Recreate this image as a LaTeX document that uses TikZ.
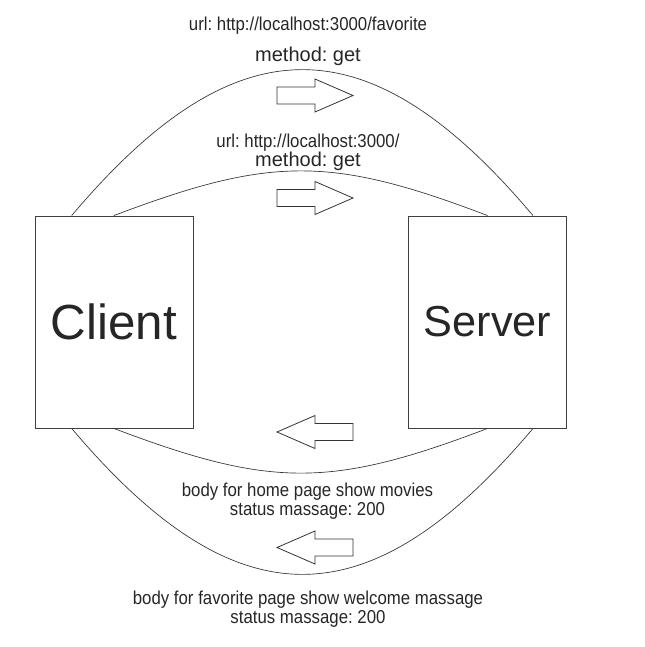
\documentclass[tikz,border=0pt]{standalone}
\usepackage{fontspec}
\setmainfont{Liberation Sans}
\newfontfamily\narrowsf[FakeStretch=0.9]{Liberation Sans}
\usepackage{tikz}
\usetikzlibrary{calc}
\frenchspacing

\tikzset{
  party/.style={draw=black!75, line width=0.7pt, minimum width=158*0.75pt, minimum height=212*0.75pt, inner sep=0pt},
  lbl/.style={anchor=base, inner sep=0pt, font=\narrowsf\fontsize{14}{16}\selectfont, text=black!85},
  mlbl/.style={anchor=base, inner sep=0pt, font=\fontsize{15}{17}\selectfont, text=black!85},
  conn/.style={draw=black!80, line width=0.5pt},
  blockarrow/.pic={\draw[black!80, line width=0.6pt] (-38,-8.5) -- (0,-8.5) -- (0,-16.5) -- (38,0) -- (0,16.5) -- (0,8.5) -- (-38,8.5) -- cycle;}
}

\begin{document}
\begin{tikzpicture}[x=0.75pt, y=-0.75pt]
  \useasboundingbox (0,0) rectangle (644,647);
  \node[party, font=\fontsize{37}{40}\selectfont, text=black!85] (client) at (114,322) {Client};
  \node[party, font=\fontsize{32.5}{36}\selectfont, text=black!85] (server) at (487.5,322) {Server};

  \draw[conn] ($(client.north west)!0.234!(client.north east)$) .. controls (236,21) and (369,21) .. ($(server.north west)!0.786!(server.north east)$);
  \draw[conn] (client.north) .. controls (271,156) and (331,156) .. (server.north);
  \draw[conn] (client.south) .. controls (271,488) and (331,488) .. (server.south);
  \draw[conn] ($(client.south west)!0.234!(client.south east)$) .. controls (236,623) and (369,623) .. ($(server.south west)!0.786!(server.south east)$);

  \pic at (315,95.5) {blockarrow};
  \pic at (315,198) {blockarrow};
  \pic[rotate=180] at (315,432) {blockarrow};
  \pic[rotate=180] at (315,547.5) {blockarrow};

  \node[lbl] (url1) at (308,30) {url: http://localhost:3000/favorite};
  \node[mlbl] (get1) at (308,61) {method: get};
  \node[lbl] (url2) at (308,147) {url: http://localhost:3000/};
  \node[mlbl] (get2) at (308,166) {method: get};
  \node[lbl] (home) at (307.5,496) {body for home page show movies};
  \node[lbl] (stat1) at (307.5,515) {status massage: 200};
  \node[lbl] (fav) at (308,604) {body for favorite page show welcome massage};
  \node[lbl] (stat2) at (308,623) {status massage: 200};
\end{tikzpicture}
\end{document}
